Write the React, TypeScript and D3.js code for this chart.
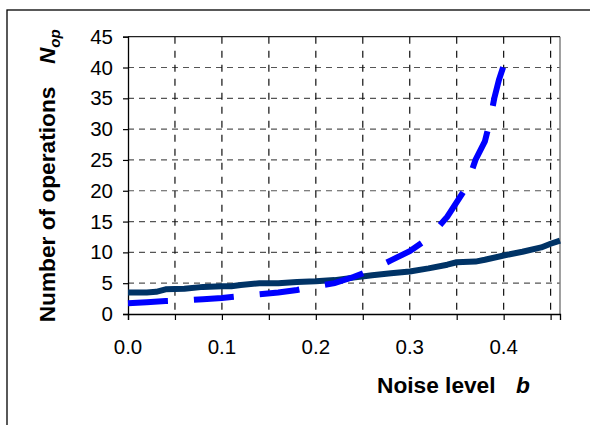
import React, { useEffect, useRef } from "react";
import * as d3 from "d3";

// noise level b and number of operations N_op
const solidB = [0, 0.02, 0.03, 0.04, 0.06, 0.08, 0.1, 0.11, 0.12, 0.14, 0.16, 0.18, 0.2, 0.22, 0.24, 0.26, 0.28, 0.3, 0.32, 0.34, 0.35, 0.37, 0.38, 0.4, 0.42, 0.44, 0.45, 0.46];
const solidN = [3.5, 3.5, 3.6, 4.0, 4.1, 4.4, 4.5, 4.5, 4.7, 5.0, 5.0, 5.2, 5.3, 5.5, 5.9, 6.3, 6.6, 6.9, 7.4, 8.0, 8.4, 8.5, 8.8, 9.5, 10.1, 10.8, 11.4, 11.9];

const dashB = [0, 0.02, 0.04, 0.06, 0.08, 0.1, 0.12, 0.14, 0.16, 0.18, 0.2, 0.22, 0.24, 0.26, 0.28, 0.3, 0.32, 0.34, 0.36, 0.37, 0.38, 0.385, 0.39, 0.395, 0.4];
const dashN = [1.75, 1.9, 2.1, 2.2, 2.4, 2.6, 2.9, 3.2, 3.5, 3.9, 4.5, 5.0, 6.0, 7.2, 8.7, 10.2, 12.3, 15.8, 20.5, 25.0, 28.0, 31.0, 35.0, 38.0, 40.3];

const xGrid = [0.05, 0.1, 0.15, 0.2, 0.25, 0.3, 0.35, 0.4, 0.45];
const xTickMarks = [0, 0.05, 0.1, 0.15, 0.2, 0.25, 0.3, 0.35, 0.4, 0.45];
const xLabels = [0, 0.1, 0.2, 0.3, 0.4];
const yTicks = [0, 5, 10, 15, 20, 25, 30, 35, 40, 45];

const W = 590;
const H = 425;
const font = "'Liberation Sans', Arial, sans-serif";

export default function App() {
  const ref = useRef(null);

  useEffect(() => {
    const svg = d3.select(ref.current);
    svg.selectAll("*").remove();

    const left = 128, right = 560, top = 36.7, bottom = 314;
    const x = d3.scaleLinear().domain([0, 0.46]).range([left, right]);
    const y = d3.scaleLinear().domain([0, 45]).range([bottom, top]);

    // outer frame (cut off on right and bottom)
    svg.append("rect")
      .attr("x", 7).attr("y", 10)
      .attr("width", 700).attr("height", 500)
      .attr("fill", "white").attr("stroke", "black").attr("stroke-width", 1.3);

    // horizontal gridlines
    svg.append("g").selectAll("line")
      .data(yTicks.filter(d => d > 0 && d < 45))
      .enter().append("line")
      .attr("x1", left).attr("x2", right)
      .attr("y1", d => y(d)).attr("y2", d => y(d))
      .attr("stroke", "#555").attr("stroke-width", 1.2)
      .attr("stroke-dasharray", "6,5");

    // vertical gridlines
    svg.append("g").selectAll("line")
      .data(xGrid)
      .enter().append("line")
      .attr("x1", d => x(d)).attr("x2", d => x(d))
      .attr("y1", top).attr("y2", bottom)
      .attr("stroke", "#111").attr("stroke-width", 1.2)
      .attr("stroke-dasharray", "7,7");

    // plot border: right gray, top dark
    svg.append("line")
      .attr("x1", right).attr("x2", right).attr("y1", top).attr("y2", bottom)
      .attr("stroke", "#808080").attr("stroke-width", 1.5);
    svg.append("line")
      .attr("x1", left).attr("x2", right).attr("y1", top).attr("y2", top)
      .attr("stroke", "#222").attr("stroke-width", 1.2);

    // y axis
    const yAxis = svg.append("g")
      .attr("transform", `translate(${left},0)`)
      .call(d3.axisLeft(y).tickValues(yTicks).tickSize(5).tickPadding(10).tickFormat(d3.format("d")));
    yAxis.select(".domain").attr("stroke", "black").attr("stroke-width", 1.3);
    yAxis.selectAll(".tick line").attr("stroke", "black").attr("stroke-width", 1.2);
    yAxis.selectAll("text")
      .attr("font-family", font).attr("font-size", 20.5).attr("fill", "black");

    // x axis: tick marks every 0.05, labels every 0.1
    const xAxis = svg.append("g")
      .attr("transform", `translate(0,${bottom})`)
      .call(d3.axisBottom(x).tickValues(xTickMarks).tickSize(6).tickFormat(() => ""));
    xAxis.select(".domain").attr("stroke", "black").attr("stroke-width", 1.3);
    xAxis.selectAll(".tick line").attr("stroke", "black").attr("stroke-width", 1.2);

    svg.append("g").selectAll("text")
      .data(xLabels)
      .enter().append("text")
      .attr("x", d => x(d)).attr("y", 354)
      .attr("text-anchor", "middle")
      .attr("font-family", font).attr("font-size", 20.5).attr("fill", "black")
      .text(d => d3.format(".1f")(d));

    const line = d3.line().x(d => x(d[0])).y(d => y(d[1]));

    svg.append("path")
      .attr("d", line(solidB.map((b, i) => [b, solidN[i]])))
      .attr("fill", "none").attr("stroke", "#003366").attr("stroke-width", 6)
      .attr("stroke-linejoin", "round");

    svg.append("path")
      .attr("d", line(dashB.map((b, i) => [b, dashN[i]])))
      .attr("fill", "none").attr("stroke", "#0000ff").attr("stroke-width", 6)
      .attr("stroke-dasharray", "40,26");

    // y axis title
    svg.append("text")
      .attr("transform", "translate(55,204.5) rotate(-90)")
      .attr("text-anchor", "middle")
      .attr("font-family", font).attr("font-size", 22.7).attr("font-weight", "bold")
      .text("Number of operations");
    const nop = svg.append("text")
      .attr("transform", "translate(55,64) rotate(-90)")
      .attr("font-family", font).attr("font-size", 22.5).attr("font-weight", "bold")
      .attr("font-style", "italic");
    nop.append("tspan").text("N");
    nop.append("tspan").attr("dy", 5).attr("font-size", 15).text("op");

    // x axis title
    svg.append("text")
      .attr("x", 377).attr("y", 393)
      .attr("font-family", font).attr("font-size", 22.7).attr("font-weight", "bold")
      .text("Noise level");
    svg.append("text")
      .attr("x", 516).attr("y", 393)
      .attr("font-family", font).attr("font-size", 22.7).attr("font-weight", "bold")
      .attr("font-style", "italic")
      .text("b");
  }, []);

  return (
    <svg ref={ref} width={W} height={H}
      style={{ position: "absolute", left: 0, top: 0, background: "white" }} />
  );
}
